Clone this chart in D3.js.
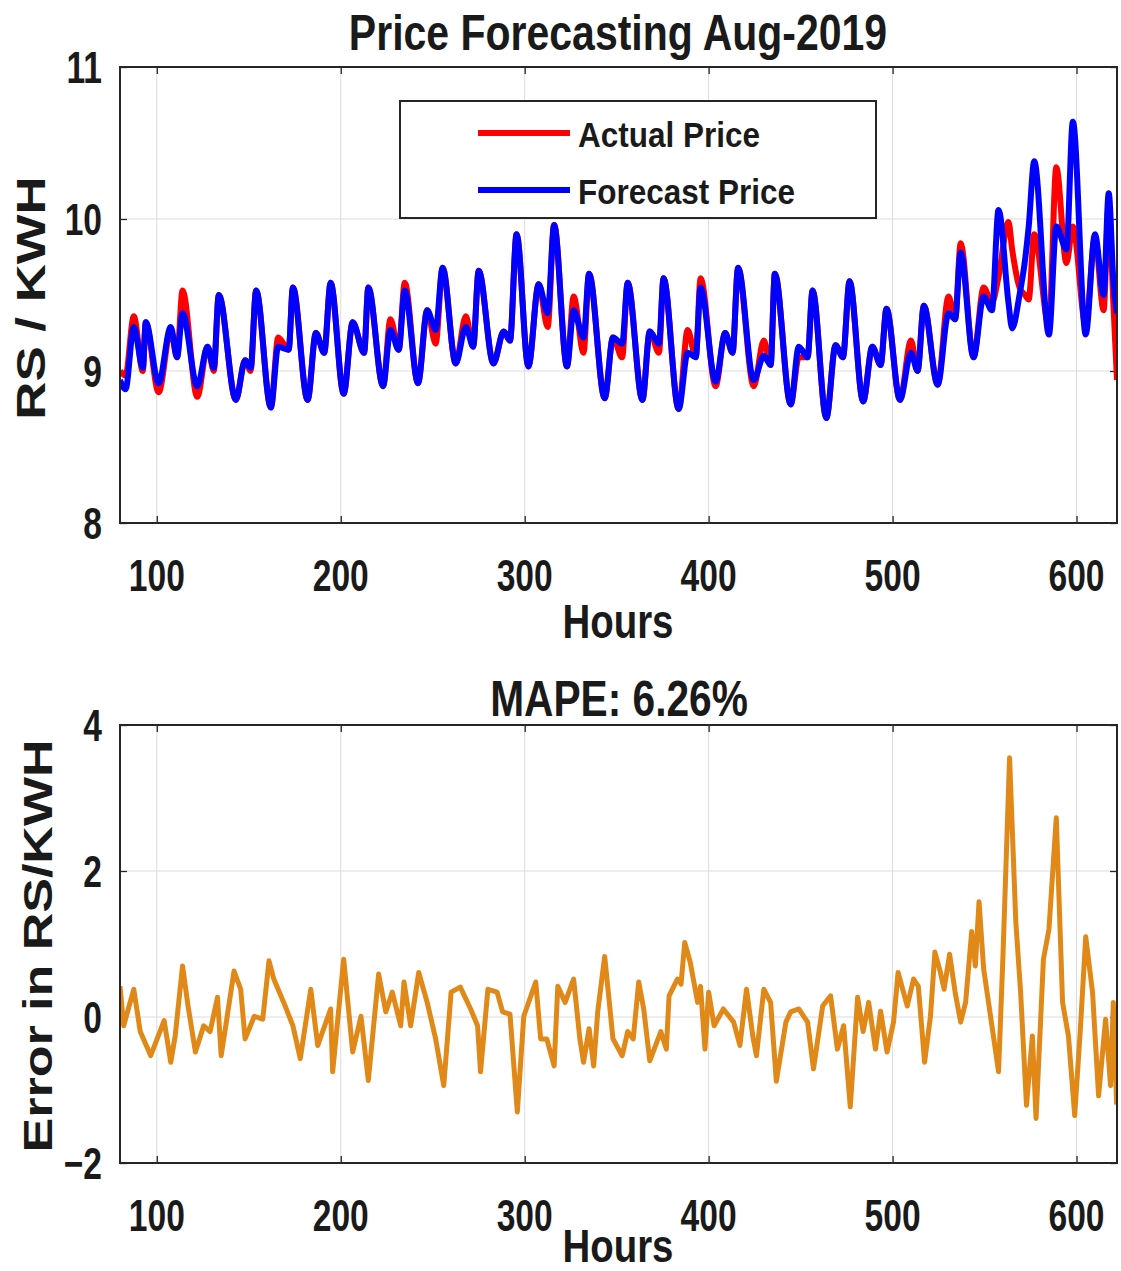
<!DOCTYPE html>
<html>
<head>
<meta charset="utf-8">
<title>Price Forecasting Aug-2019</title>
<style>
	body{ margin:0; background:#fff; }
	svg text{ font-family:"Liberation Sans", Arial, sans-serif; font-weight:bold; fill:#1a1a1a; }
</style>
</head>
<body>
<div id="chart"></div>
<script src="https://d3js.org/d3.v7.min.js"></script>
<script type="text/javascript">

// hourly price at the turning points
var hours = [
	80, 83, 87.5, 92.4, 94, 101, 107.6, 111, 114, 122,
	127.6, 131, 133.7, 143, 148, 151, 154, 162, 166, 171.7,
	174, 182, 186.5, 191, 194.5, 201.6, 206.5, 212.7, 215, 223,
	227, 231.5, 234.8, 242, 247, 251.6, 255.4, 262.5, 268, 272,
	275, 283, 288.6, 292, 295.6, 302, 307.6, 312.5, 316, 323,
	326.6, 332, 335, 343.5, 348, 353, 356, 364, 368, 373,
	375.5, 383.7, 388.6, 393, 395.6, 403.8, 409, 413, 416, 424.5,
	430, 433.7, 436, 444.6, 449, 453.8, 456.5, 464, 469, 473,
	476.6, 484, 489, 493.5, 496.7, 504, 510, 513.6, 517, 524.5,
	530.4, 534, 537, 544, 549.5, 554, 557.6, 563, 565, 569,
	572, 574, 577, 585, 589, 594.5, 598, 605, 610, 614.7,
	617.5, 620, 622
];
var actual = [
	9.00, 8.97, 9.36, 9.00, 9.32, 8.86, 9.27, 9.09, 9.53, 8.83,
	9.16, 9.00, 9.50, 8.81, 9.07, 9.00, 9.53, 8.76, 9.22, 9.14,
	9.55, 8.81, 9.25, 9.12, 9.58, 8.85, 9.32, 9.12, 9.55, 8.90,
	9.34, 9.14, 9.58, 8.92, 9.40, 9.18, 9.68, 9.05, 9.36, 9.16,
	9.66, 9.05, 9.26, 9.20, 9.90, 9.03, 9.57, 9.29, 9.96, 9.03,
	9.49, 9.12, 9.64, 8.82, 9.22, 9.09, 9.58, 8.81, 9.26, 9.12,
	9.61, 8.75, 9.27, 9.09, 9.61, 8.90, 9.25, 9.12, 9.68, 8.90,
	9.20, 9.04, 9.64, 8.78, 9.09, 9.09, 9.53, 8.69, 9.17, 9.09,
	9.59, 8.80, 9.16, 9.04, 9.41, 8.81, 9.20, 9.00, 9.43, 8.91,
	9.49, 9.34, 9.84, 9.09, 9.55, 9.45, 9.62, 9.98, 9.80, 9.55,
	9.50, 9.47, 9.90, 9.30, 10.34, 9.71, 9.95, 9.30, 9.88, 9.40,
	10.10, 9.45, 8.94
];
var forecast = [
	8.94, 8.88, 9.29, 9.02, 9.32, 8.92, 9.29, 9.09, 9.38, 8.90,
	9.16, 9.02, 9.50, 8.81, 9.07, 9.02, 9.53, 8.76, 9.16, 9.14,
	9.55, 8.81, 9.25, 9.12, 9.58, 8.85, 9.32, 9.12, 9.55, 8.90,
	9.27, 9.14, 9.53, 8.92, 9.40, 9.27, 9.68, 9.05, 9.29, 9.16,
	9.66, 9.05, 9.26, 9.20, 9.90, 9.03, 9.57, 9.38, 9.96, 9.03,
	9.40, 9.22, 9.64, 8.82, 9.22, 9.18, 9.58, 8.81, 9.26, 9.18,
	9.61, 8.75, 9.12, 9.09, 9.55, 8.93, 9.25, 9.12, 9.68, 8.94,
	9.10, 9.04, 9.64, 8.78, 9.16, 9.09, 9.53, 8.69, 9.17, 9.09,
	9.59, 8.80, 9.16, 9.04, 9.41, 8.81, 9.12, 9.00, 9.43, 8.91,
	9.38, 9.34, 9.78, 9.09, 9.49, 9.40, 10.06, 9.45, 9.28, 9.50,
	9.73, 9.95, 10.38, 9.24, 9.95, 9.80, 10.64, 9.24, 9.90, 9.50,
	10.17, 9.60, 9.38
];

// error curve, also read at the turning points
var errHours = [
	80, 82, 87.5, 91, 96.7, 104, 107.6, 110, 114, 117,
	121, 125.5, 129, 133, 135, 137.5, 142, 145.6, 148, 153,
	157.6, 161, 163.6, 169, 174, 178, 183.7, 187.5, 194.5, 195.6,
	201.6, 206.5, 211, 215, 220.6, 224.5, 228, 232.6, 234.4, 238,
	242.4, 247, 251.6, 256, 260, 265, 270.6, 274.4, 276, 280,
	285, 288, 292, 296, 299.5, 306, 308.7, 312, 316, 318,
	322, 326.6, 330, 332, 335, 337.5, 339.7, 343.5, 348, 353,
	356, 359, 362, 364.7, 368, 374, 377, 378.5, 383, 385,
	387, 390, 394, 395.6, 398, 400, 403, 408, 413.6, 417,
	420.6, 424, 426, 430, 433.7, 436.8, 442, 444.6, 449, 453.8,
	457, 462, 466.3, 470, 473.4, 477, 481, 484, 487, 490.7,
	493.5, 497, 500.5, 503, 508, 511.4, 514, 517.4, 520.6, 523,
	526, 528, 531, 534, 537, 539.7, 543, 545, 547, 549.5,
	554, 557.6, 560, 563.6, 567, 569.6, 572.8, 576, 578, 582,
	585, 589, 592.4, 595.6, 599, 602, 605, 608.7, 612, 615.8,
	618.5, 620, 621.8
];
var errValues = [
	0.42, -0.12, 0.38, -0.20, -0.53, -0.05, -0.62, -0.26, 0.70, 0.15,
	-0.48, -0.12, -0.20, 0.27, -0.53, -0.12, 0.63, 0.38, -0.30, 0.01,
	-0.03, 0.77, 0.52, 0.20, -0.12, -0.57, 0.38, -0.39, 0.11, -0.75,
	0.79, -0.48, 0.01, -0.87, 0.59, 0.07, 0.34, -0.12, 0.48, -0.12,
	0.61, 0.20, -0.30, -0.94, 0.34, 0.41, 0.11, -0.12, -0.75, 0.38,
	0.34, 0.07, 0.04, -1.30, 0.01, 0.48, -0.30, -0.30, -0.67, 0.42,
	0.20, 0.52, -0.30, -0.62, -0.16, -0.67, 0.07, 0.83, -0.30, -0.53,
	-0.20, -0.30, 0.48, 0.11, -0.60, -0.20, -0.44, 0.29, 0.52, 0.45,
	1.02, 0.75, 0.20, 0.42, -0.44, 0.34, -0.12, 0.11, -0.07, -0.39,
	0.38, -0.26, -0.53, 0.38, 0.20, -0.88, -0.07, 0.07, 0.11, -0.07,
	-0.71, 0.15, 0.29, -0.44, -0.12, -1.23, 0.27, -0.20, 0.20, -0.44,
	0.08, -0.48, -0.07, 0.61, 0.15, 0.52, 0.42, -0.62, 0.01, 0.89,
	0.61, 0.38, 0.86, 0.34, -0.07, 0.20, 1.17, 0.70, 1.58, 0.66,
	-0.12, -0.75, 0.83, 3.55, 1.30, 0.34, -1.21, -0.26, -1.39, 0.79,
	1.20, 2.73, 0.20, -0.26, -1.35, -0.20, 1.10, 0.34, -1.08, -0.03,
	-0.94, 0.20, -1.20
];

var hourTicks = [100, 200, 300, 400, 500, 600],
	priceTicks = [8, 9, 10, 11],
	errTicks = [-2, 0, 2, 4],
	seriesNames = ['Actual Price', 'Forecast Price'],
	seriesColors = ['#ff0000', '#0000ff'];

var width = 1121, height = 1271,
	left = 120, right = 1117;

var svg = d3.select('#chart').append('svg')
	.attr('width', width).attr('height', height);

// the source picture is stretched vertically, so text gets a y-scale
function label(txt, x, y, size, sy, anchor, rotate){
	var t = svg.append('text')
		.attr('text-anchor', anchor || 'middle')
		.style('font-size', size + 'px')
		.text(txt);
	if(rotate) t.attr('transform', 'translate(' + x + ',' + y + ') rotate(-90) scale(' + sy + ',1)');
	else t.attr('transform', 'translate(' + x + ',' + y + ') scale(1,' + sy + ')');
	return t;
}

function panel(top, bottom, yDomain, yTicks, id){
	var x = d3.scaleLinear().domain([80, 622]).range([left, right]),
		y = d3.scaleLinear().domain(yDomain).range([bottom, top]),
		g = svg.append('g');

	svg.append('clipPath').attr('id', id)
		.append('rect').attr('x', left).attr('y', top).attr('width', right - left).attr('height', bottom - top);

	// grid
	g.selectAll('.gx').data(hourTicks).enter().append('line')
		.attr('x1', x).attr('x2', x).attr('y1', top).attr('y2', bottom)
		.style('stroke', '#dcdcdc').style('stroke-width', 1);
	g.selectAll('.gy').data(yTicks).enter().append('line')
		.attr('x1', left).attr('x2', right).attr('y1', y).attr('y2', y)
		.style('stroke', '#dcdcdc').style('stroke-width', 1);

	// inward ticks on all four sides
	var axes = [
		[d3.axisBottom(x), 'translate(0,' + bottom + ')'],
		[d3.axisTop(x), 'translate(0,' + top + ')'],
		[d3.axisLeft(y), 'translate(' + left + ',0)'],
		[d3.axisRight(y), 'translate(' + right + ',0)']
	];
	axes.forEach(function(a, i){
		var ax = a[0].tickSizeInner(-7).tickSizeOuter(0).tickFormat('');
		ax.tickValues(i < 2 ? hourTicks : yTicks);
		var ga = svg.append('g').attr('transform', a[1]).call(ax);
		ga.select('.domain').remove();
		ga.selectAll('line').style('stroke', '#262626').style('stroke-width', 1.3);
	});

	// tick labels
	hourTicks.forEach(function(d){
		label(d3.format('d')(d), x(d), bottom + 68, 33.6, 1.33);
	});
	yTicks.forEach(function(d){
		label(d3.format('d')(d), left - 18, y(d) + 16, 33.6, 1.33, 'end');
	});

	return {x: x, y: y, g: g, top: top, bottom: bottom};
}

function frame(p){
	svg.append('rect')
		.attr('x', left).attr('y', p.top).attr('width', right - left).attr('height', p.bottom - p.top)
		.style('fill', 'none').style('stroke', '#262626').style('stroke-width', 2);
}

// ---- top panel: prices
var p1 = panel(67, 523, [8, 11], priceTicks, 'clipTop');
var priceLine = function(vals){
	return d3.line()
		.curve(d3.curveMonotoneX)
		.x(function(d, i){ return p1.x(hours[i]); })
		.y(function(d){ return p1.y(d); })(vals);
};
[actual, forecast].forEach(function(vals, i){
	svg.append('path')
		.attr('d', priceLine(vals))
		.attr('clip-path', 'url(#clipTop)')
		.style('fill', 'none')
		.style('stroke', seriesColors[i])
		.style('stroke-width', 6)
		.style('stroke-linejoin', 'round');
});
frame(p1);

// legend
svg.append('rect').attr('x', 400).attr('y', 101).attr('width', 476).attr('height', 117)
	.style('fill', '#fff').style('stroke', '#262626').style('stroke-width', 2);
seriesNames.forEach(function(name, i){
	var ly = 133 + i * 57;
	svg.append('line').attr('x1', 478).attr('x2', 570).attr('y1', ly).attr('y2', ly)
		.style('stroke', seriesColors[i]).style('stroke-width', 6);
	label(name, 578, ly + 14, 31.5, 1.12, 'start');
});

label('Price Forecasting Aug-2019', 618, 50, 41, 1.2);
label('Hours', 618, 638, 38.4, 1.25);
label('RS / KWH', 45, 298, 40, 1.32, 'middle', true);

// ---- bottom panel: error
var p2 = panel(725, 1163, [-2, 4], errTicks, 'clipBottom');
svg.append('path')
	.datum(errValues)
	.attr('d', d3.line().x(function(d, i){ return p2.x(errHours[i]); }).y(function(d){ return p2.y(d); }))
	.attr('clip-path', 'url(#clipBottom)')
	.style('fill', 'none')
	.style('stroke', '#e08818')
	.style('stroke-width', 5)
	.style('stroke-linejoin', 'round');
frame(p2);

label('MAPE: 6.26%', 619, 716, 40.7, 1.22);
label('Hours', 618, 1262, 38.4, 1.22);
label('Error in RS/KWH', 52, 946, 40, 1.3, 'middle', true);

</script>
</body>
</html>
